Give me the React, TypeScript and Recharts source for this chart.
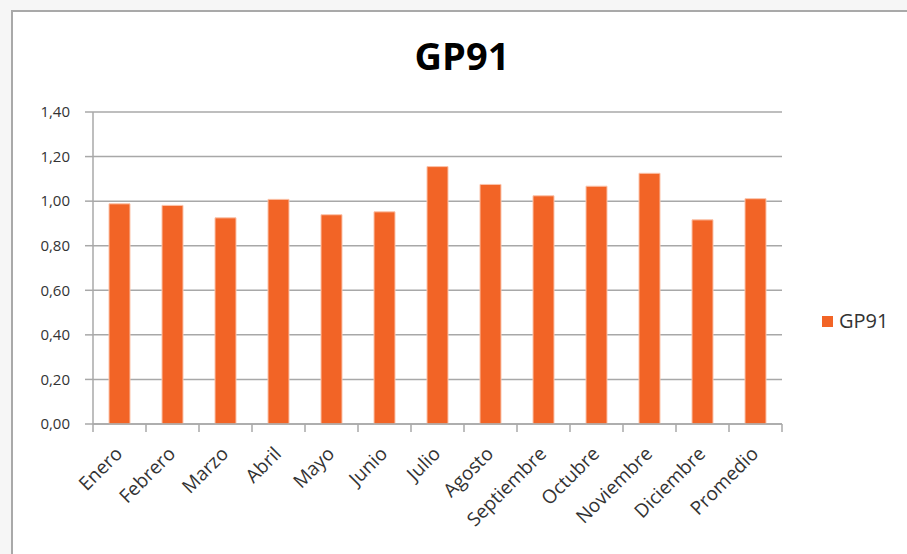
import React from "react";
import { BarChart, Bar, XAxis, YAxis, CartesianGrid, Legend } from "recharts";

const categories = [
  "Enero",
  "Febrero",
  "Marzo",
  "Abril",
  "Mayo",
  "Junio",
  "Julio",
  "Agosto",
  "Septiembre",
  "Octubre",
  "Noviembre",
  "Diciembre",
  "Promedio",
];
const gp91Values = [0.988, 0.981, 0.925, 1.008, 0.939, 0.952, 1.155, 1.075, 1.024, 1.067, 1.125, 0.916, 1.011];
const yTicks = [0, 0.2, 0.4, 0.6, 0.8, 1.0, 1.2, 1.4];
const seriesName = "GP91";
const titleText = "GP91";

const data = categories.map((c, i) => ({ name: c, value: gp91Values[i] }));

const GRID = "#a8a8a8";
const BAR = "#f26426";
const TEXT = "#333333";
const FONT = "'Open Sans', 'Noto Sans', sans-serif";

const XTick = (props: any) => {
  const { x, y, payload, index } = props;
  const off = payload && payload.offset ? payload.offset : 26.5;
  const last = index === categories.length - 1;
  const tx = x + 4;
  const ty = y + 31;
  return (
    <g>
      <line x1={x - off} x2={x - off} y1={y} y2={y + 8} stroke={GRID} strokeWidth={1.5} />
      {last ? <line x1={x + off} x2={x + off} y1={y} y2={y + 8} stroke={GRID} strokeWidth={1.5} /> : null}
      <text
        x={tx}
        y={ty}
        textAnchor="end"
        transform={`rotate(-45, ${tx}, ${ty})`}
        fill={TEXT}
        fontSize={19}
        fontFamily={FONT}
      >
        {payload.value}
      </text>
    </g>
  );
};

const LegendContent = (props: any) => {
  const { payload } = props;
  return (
    <div>
      {(payload || []).map((p: any) => (
        <div key={p.value} style={{ display: "flex", alignItems: "center", fontFamily: FONT, fontSize: 20, color: TEXT, lineHeight: "24px" }}>
          <span style={{ display: "inline-block", width: 11, height: 11, background: BAR, marginRight: 6 }} />
          <span>{p.value}</span>
        </div>
      ))}
    </div>
  );
};

export default function App() {
  return (
    <div style={{ position: "absolute", left: 0, top: 0, width: 907, height: 554, background: "#f6f6f6", overflow: "hidden" }}>
      <div
        style={{
          position: "absolute",
          left: 11,
          top: 10,
          width: 920,
          height: 560,
          background: "#ffffff",
          borderLeft: "2px solid #a9a9a9",
          borderTop: "2px solid #a9a9a9",
        }}
      />
      <div
        style={{
          position: "absolute",
          left: 12,
          width: 900,
          top: 32,
          textAlign: "center",
          fontFamily: FONT,
          fontWeight: 700,
          fontSize: 38,
          color: "#000",
          lineHeight: "46px",
        }}
      >
        {titleText}
      </div>
      <div style={{ position: "absolute", left: 0, top: 0 }}>
        <BarChart width={907} height={554} data={data} margin={{ top: 112, right: 45, bottom: 30, left: 0 }}>
          <CartesianGrid vertical={false} stroke={GRID} strokeWidth={1.5} />
          <XAxis
            dataKey="name"
            interval={0}
            tickLine={false}
            tickSize={0}
            tickMargin={0}
            height={100}
            axisLine={{ stroke: GRID, strokeWidth: 1.5 }}
            tick={<XTick />}
          />
          <YAxis
            domain={[0, 1.4]}
            ticks={yTicks}
            width={93}
            tickSize={8}
            tickMargin={15}
            tickLine={{ stroke: GRID, strokeWidth: 1.5 }}
            axisLine={{ stroke: GRID, strokeWidth: 1.5 }}
            tickFormatter={(v: number) => v.toFixed(2).replace(".", ",")}
            tick={{ fill: TEXT, fontSize: 15, fontFamily: FONT }}
          />
          <Legend
            layout="vertical"
            align="right"
            verticalAlign="middle"
            content={<LegendContent />}
            wrapperStyle={{ position: "absolute", left: 822, top: 309, width: 80 }}
          />
          <Bar dataKey="value" name={seriesName} fill={BAR} stroke="#fbc3aa" strokeWidth={1} barSize={21} isAnimationActive={false} />
        </BarChart>
      </div>
    </div>
  );
}
